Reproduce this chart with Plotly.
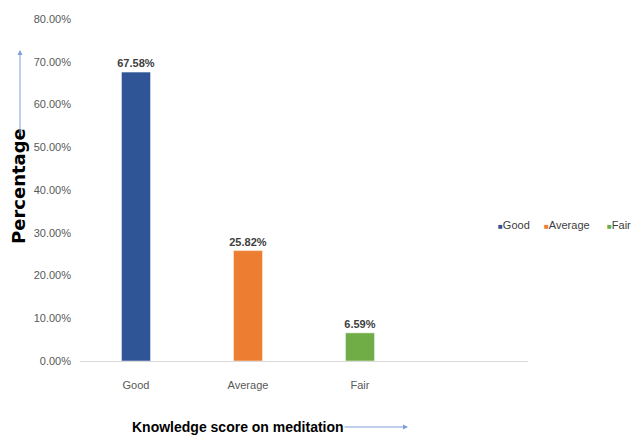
import plotly.graph_objects as go

# Knowledge score on meditation: share of respondents per score band
categories = ["Good", "Average", "Fair"]
percentages = [67.58, 25.82, 6.59]
colors = ["#2F5597", "#ED7D31", "#70AD47"]
y_ticks = [0, 10, 20, 30, 40, 50, 60, 70, 80]
y_tick_labels = [f"{v:.2f}%" for v in y_ticks]

sans = "Liberation Sans, Arial, sans-serif"

# plot area in pixels: x 80..528, y 19..361
L, R, T, B = 80, 106, 19, 77
W, H = 634, 438
pw, ph = W - L - R, H - T - B


def px_x(x):
    return (x - L) / pw


def px_y(y):
    return (H - B - y) / ph


fig = go.Figure()
for i, (cat, val, col) in enumerate(zip(categories, percentages, colors)):
    fig.add_trace(go.Bar(
        x=[i], y=[val], name=cat, width=0.26,
        marker=dict(color=col, line=dict(color="rgba(255,255,255,0.5)", width=1)),
        text=[f"{val:.2f}%"], textposition="outside", constraintext="none",
        textfont=dict(family=sans, size=11, color="#404040", weight="bold"),
        cliponaxis=False, showlegend=False,
    ))

annotations = [
    dict(text="<b>Percentage</b>", xref="paper", yref="paper",
         x=px_x(18), y=px_y(186), xanchor="center", yanchor="middle",
         textangle=-90, showarrow=False,
         font=dict(family="DejaVu Sans", size=18, color="black")),
    dict(text="", xref="paper", yref="paper", x=px_x(20), y=px_y(50),
         ax=0, ay=85, showarrow=True, arrowhead=2, arrowsize=1,
         arrowwidth=1, arrowcolor="#7F9FDB"),
    dict(text="<b>Knowledge score on meditation</b>", xref="paper", yref="paper",
         x=px_x(238), y=px_y(427), showarrow=False, xanchor="center", yanchor="middle",
         font=dict(family=sans, size=14, color="black")),
    dict(text="", xref="paper", yref="paper", x=px_x(408), y=px_y(427),
         ax=-65, ay=0, showarrow=True, arrowhead=2, arrowsize=1,
         arrowwidth=1, arrowcolor="#7F9FDB"),
]

# compact legend: a coloured square followed by the category name
legend_x = [496, 542, 605]
for cat, col, lx in zip(categories, colors, legend_x):
    annotations.append(dict(
        text=f"<span style='color:{col};font-size:8px'>■</span>{cat}",
        xref="paper", yref="paper", x=px_x(lx), y=px_y(225),
        xanchor="left", yanchor="middle", showarrow=False,
        font=dict(family=sans, size=11, color="#404040"),
    ))

fig.update_layout(
    width=W, height=H,
    margin=dict(l=L, r=R, t=T, b=B, autoexpand=False),
    paper_bgcolor="white", plot_bgcolor="white",
    barmode="overlay",
    showlegend=False,
    xaxis=dict(
        range=[-0.5, 3.5], tickvals=list(range(len(categories))), ticktext=categories,
        showline=True, linecolor="#D9D9D9", linewidth=1, showgrid=False, zeroline=False,
        ticks="", ticklabelstandoff=14,
        tickfont=dict(family=sans, size=11, color="#595959"),
    ),
    yaxis=dict(
        range=[0, 80], tickvals=y_ticks, ticktext=y_tick_labels,
        showgrid=False, zeroline=False, showline=False, ticks="",
        tickfont=dict(family=sans, size=11, color="#595959"),
        ticklabelstandoff=8,
    ),
    annotations=annotations,
)

fig.write_html("out.html")
